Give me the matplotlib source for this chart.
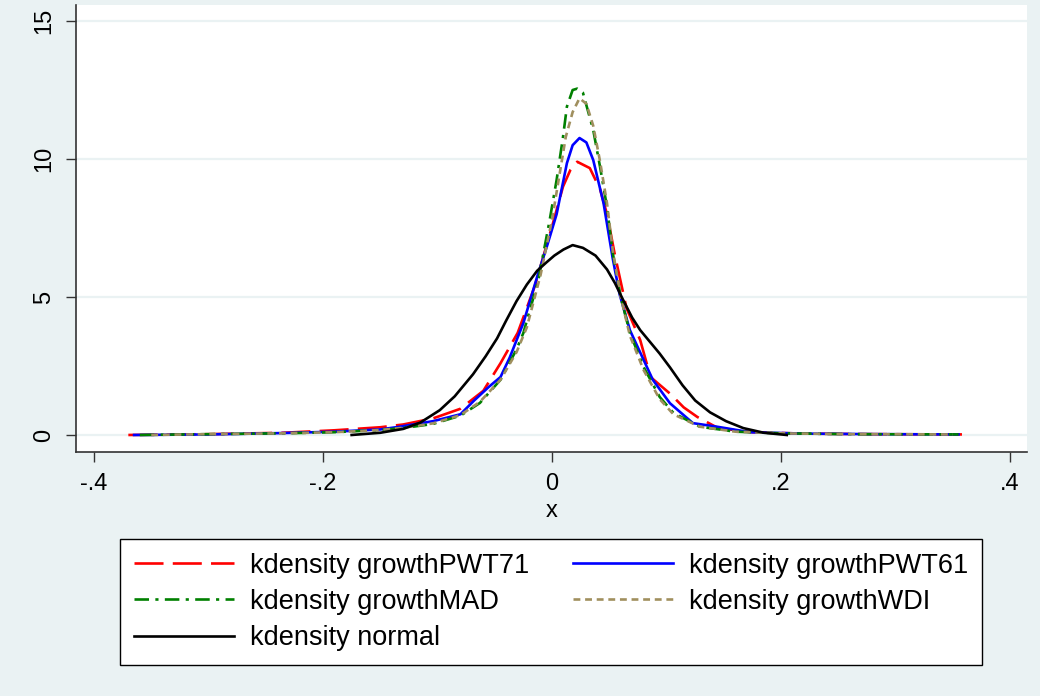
import matplotlib
matplotlib.use("Agg")
import matplotlib.pyplot as plt

plt.rcParams['font.family'] = ['Liberation Sans', 'DejaVu Sans']

# kernel density curves
x_pwt71 = [-0.37, -0.3, -0.235, -0.19, -0.15, -0.13, -0.104, -0.08, -0.06, -0.045,
           -0.03, -0.015, 0.001, 0.0096, 0.016, 0.022, 0.033, 0.042, 0.048, 0.055,
           0.065, 0.077, 0.086, 0.103, 0.115, 0.127, 0.145, 0.175, 0.22, 0.28, 0.358]
y_pwt71 = [0.0, 0.03, 0.08, 0.17, 0.28, 0.38, 0.6, 0.95, 1.6, 2.6,
           3.7, 5.4, 7.7, 9.0, 9.6, 9.9, 9.67, 8.9, 8.0, 6.5,
           4.6, 3.44, 2.1, 1.5, 1.0, 0.65, 0.25, 0.1, 0.05, 0.03, 0.02]

x_pwt61 = [-0.365, -0.3, -0.235, -0.19, -0.15, -0.133, -0.104, -0.08, -0.068, -0.055,
           -0.045, -0.037, -0.025, -0.013, -0.004, 0.004, 0.013, 0.018, 0.024, 0.030,
           0.036, 0.045, 0.053, 0.059, 0.068, 0.080, 0.088, 0.103, 0.123, 0.144,
           0.173, 0.22, 0.28, 0.355]
y_pwt61 = [0.0, 0.02, 0.07, 0.12, 0.2, 0.3, 0.5, 0.75, 1.25, 1.75,
           2.1, 2.8, 4.06, 5.73, 6.9, 8.0, 9.85, 10.5, 10.76, 10.6,
           9.96, 8.4, 6.4, 5.1, 3.8, 2.72, 2.0, 1.15, 0.43, 0.3,
           0.1, 0.05, 0.03, 0.02]

x_mad = [-0.36, -0.3, -0.235, -0.19, -0.15, -0.13, -0.104, -0.08, -0.063, -0.045,
         -0.031, -0.025, -0.012, -0.002, 0.004, 0.0096, 0.013, 0.018, 0.022, 0.027,
         0.036, 0.042, 0.048, 0.053, 0.06, 0.068, 0.08, 0.094, 0.106, 0.129,
         0.16, 0.2, 0.26, 0.355]
y_mad = [0.0, 0.03, 0.06, 0.1, 0.18, 0.25, 0.4, 0.7, 1.16, 2.0,
         3.1, 3.7, 5.6, 7.8, 9.24, 10.8, 11.9, 12.5, 12.55, 12.4,
         11.05, 9.7, 8.26, 6.6, 5.0, 3.7, 2.46, 1.38, 0.8, 0.3,
         0.12, 0.06, 0.03, 0.02]

x_wdi = [-0.35, -0.3, -0.235, -0.19, -0.15, -0.13, -0.104, -0.08, -0.063, -0.045,
         -0.031, -0.022, -0.01, 0.0, 0.006, 0.012, 0.018, 0.024, 0.03, 0.036,
         0.042, 0.048, 0.053, 0.06, 0.068, 0.08, 0.094, 0.106, 0.129, 0.16,
         0.2, 0.26, 0.35]
y_wdi = [0.0, 0.03, 0.06, 0.1, 0.18, 0.26, 0.42, 0.72, 1.2, 2.0,
         3.0, 3.9, 5.8, 7.8, 9.3, 10.8, 11.7, 12.2, 12.0, 11.2,
         9.9, 8.4, 6.7, 5.0, 3.6, 2.35, 1.3, 0.75, 0.3, 0.12,
         0.06, 0.03, 0.02]

x_normal = [-0.175, -0.15, -0.13, -0.115, -0.098, -0.085, -0.069, -0.058, -0.048, -0.04,
            -0.031, -0.022, -0.013, -0.005, 0.002, 0.01, 0.018, 0.027, 0.038, 0.048,
            0.055, 0.062, 0.07, 0.077, 0.085, 0.094, 0.103, 0.114, 0.125, 0.138,
            0.152, 0.167, 0.185, 0.205]
y_normal = [0.0, 0.08, 0.22, 0.45, 0.9, 1.4, 2.2, 2.85, 3.5, 4.15,
            4.85, 5.45, 5.95, 6.25, 6.5, 6.72, 6.88, 6.78, 6.5, 6.0,
            5.5, 4.9, 4.25, 3.8, 3.4, 2.95, 2.45, 1.8, 1.25, 0.82,
            0.5, 0.25, 0.08, 0.0]

labels = ["kdensity growthPWT71", "kdensity growthPWT61", "kdensity growthMAD",
          "kdensity growthWDI", "kdensity normal"]
xticks = [-0.4, -0.2, 0, 0.2, 0.4]
xticklabels = ["-.4", "-.2", "0", ".2", ".4"]
yticks = [0, 5, 10, 15]

bg = "#eaf2f3"
fig = plt.figure(figsize=(10.4, 6.96), dpi=100, facecolor=bg)
ax = fig.add_axes([0.0731, 0.3506, 0.9144, 0.6422])
ax.set_facecolor("white")

lw = 1.9
l1, = ax.plot(x_pwt71, y_pwt71, color="#ff0000", lw=lw, dashes=(11, 3.5), label=labels[0])
l2, = ax.plot(x_pwt61, y_pwt61, color="#0000ff", lw=lw, label=labels[1])
l3, = ax.plot(x_mad, y_mad, color="#008000", lw=lw, dashes=(5.5, 2.4, 1.2, 2.4), label=labels[2])
l4, = ax.plot(x_wdi, y_wdi, color="#a08f5e", lw=lw, dashes=(2.6, 1.8), label=labels[3])
l5, = ax.plot(x_normal, y_normal, color="black", lw=lw, label=labels[4])

ax.set_xlim(-0.4157, 0.4148)
ax.set_ylim(-0.616, 15.58)
ax.set_yticks(yticks)
ax.set_yticklabels([str(v) for v in yticks], rotation=90, va="center")
ax.set_xticks(xticks)
ax.set_xticklabels(xticklabels)
ax.tick_params(axis="both", length=7, width=1, color="#333333", labelsize=17, pad=8)
ax.grid(axis="y", color=bg, lw=1.6)
ax.set_axisbelow(True)
for s in ["top", "right"]:
    ax.spines[s].set_visible(False)
for s in ["left", "bottom"]:
    ax.spines[s].set_color("#333333")
    ax.spines[s].set_linewidth(1.2)
ax.set_xlabel("x", fontsize=17, labelpad=4)

# title is mostly cut off at the top edge in the original
fig.text(0.45, 1.0 + 6 / 696, "Kernel density of growth rates, by dataset",
         color="#1a476f", fontsize=20, ha="center", va="baseline")

# legend filled row by row like the original (matplotlib fills by column)
handles = [l1, l3, l5, l2, l4]
leg = fig.legend(handles, [h.get_label() for h in handles],
                 loc="upper left", bbox_to_anchor=(120 / 1040, 1 - 539 / 696),
                 ncol=2, fontsize=19.5, handlelength=3.7, handletextpad=0.6,
                 columnspacing=1.6, labelspacing=0.38, fancybox=False,
                 edgecolor="black", framealpha=1, borderaxespad=0, borderpad=0.5)
leg.get_frame().set_linewidth(1.0)

fig.savefig("out.png", dpi=100, facecolor=bg)
